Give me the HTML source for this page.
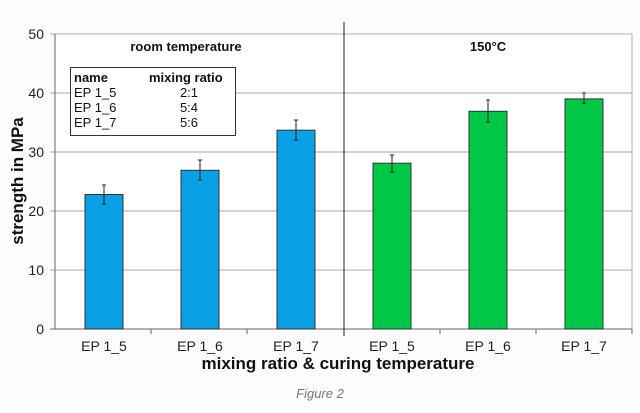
<!DOCTYPE html><html><head><style>body{margin:0;background:#fff}</style></head><body>
<svg width="640" height="408" xmlns="http://www.w3.org/2000/svg" font-family="Liberation Sans, sans-serif">
<rect width="640" height="408" fill="#fcfcfc"/>
<rect x="55" y="34" width="577" height="295" fill="#fff" stroke="#b0b0b0"/>
<g stroke="#a8a8a8" stroke-width="1">
<line x1="50" y1="93" x2="632" y2="93"/><line x1="50" y1="152" x2="632" y2="152"/>
<line x1="50" y1="211" x2="632" y2="211"/><line x1="50" y1="270" x2="632" y2="270"/>
<line x1="50" y1="34" x2="55" y2="34"/>
</g>
<line x1="55" y1="34" x2="55" y2="329" stroke="#666"/>
<line x1="50" y1="329" x2="632" y2="329" stroke="#666"/>
<g stroke="#666"><line x1="151" y1="329" x2="151" y2="334"/><line x1="247" y1="329" x2="247" y2="334"/><line x1="440" y1="329" x2="440" y2="334"/><line x1="536" y1="329" x2="536" y2="334"/><line x1="632" y1="329" x2="632" y2="334"/></g>
<line x1="344" y1="22" x2="344" y2="336" stroke="#222"/>
<g font-size="14" fill="#222" text-anchor="end">
<text x="44" y="39">50</text><text x="44" y="98">40</text><text x="44" y="157">30</text><text x="44" y="216">20</text><text x="44" y="275">10</text><text x="44" y="334">0</text></g>
<g stroke="#333" stroke-width="1">
<rect x="85" y="194.5" width="38" height="134.5" fill="#0aa0e6"/>
<rect x="181" y="170.3" width="38" height="158.7" fill="#0aa0e6"/>
<rect x="277" y="130.2" width="38" height="198.8" fill="#0aa0e6"/>
<rect x="373" y="163.2" width="38" height="165.8" fill="#00c844"/>
<rect x="469" y="111.3" width="38" height="217.7" fill="#00c844"/>
<rect x="565" y="98.9" width="38" height="230.1" fill="#00c844"/>
</g>
<g stroke="#222" stroke-width="1">
<path d="M104 185v19M102 185h4M102 204h4"/>
<path d="M200 160v20M198 160h4M198 180h4"/>
<path d="M296 120v20M294 120h4M294 140h4"/>
<path d="M392 155v17M390 155h4M390 172h4"/>
<path d="M488 100v22M486 100h4M486 122h4"/>
<path d="M584 93v10M582 93h4M582 103h4"/>
</g>
<text x="186" y="51" font-size="13" font-weight="bold" text-anchor="middle" fill="#111">room temperature</text>
<text x="488" y="51" font-size="13" font-weight="bold" text-anchor="middle" fill="#111">150°C</text>
<rect x="70.5" y="67.5" width="165" height="68" fill="#fff" stroke="#333"/>
<g font-size="13" fill="#111">
<text x="74" y="82" font-weight="bold">name</text><text x="149" y="82" font-weight="bold">mixing ratio</text>
<text x="74" y="97">EP 1_5</text><text x="74" y="112">EP 1_6</text><text x="74" y="127">EP 1_7</text>
<text x="189" y="97" text-anchor="middle">2:1</text><text x="189" y="112" text-anchor="middle">5:4</text><text x="189" y="127" text-anchor="middle">5:6</text></g>
<g font-size="14" fill="#222" text-anchor="middle">
<text x="104" y="351">EP 1_5</text><text x="200" y="351">EP 1_6</text><text x="296" y="351">EP 1_7</text>
<text x="392" y="351">EP 1_5</text><text x="488" y="351">EP 1_6</text><text x="584" y="351">EP 1_7</text></g>
<text x="338" y="369" font-size="17" font-weight="bold" text-anchor="middle" fill="#111">mixing ratio &amp; curing temperature</text>
<text transform="translate(23,181) rotate(-90)" font-size="17" font-weight="bold" text-anchor="middle" fill="#111">strength in MPa</text>
<text x="320" y="398" font-size="13" font-style="italic" text-anchor="middle" fill="#777">Figure 2</text>
</svg></body></html>
